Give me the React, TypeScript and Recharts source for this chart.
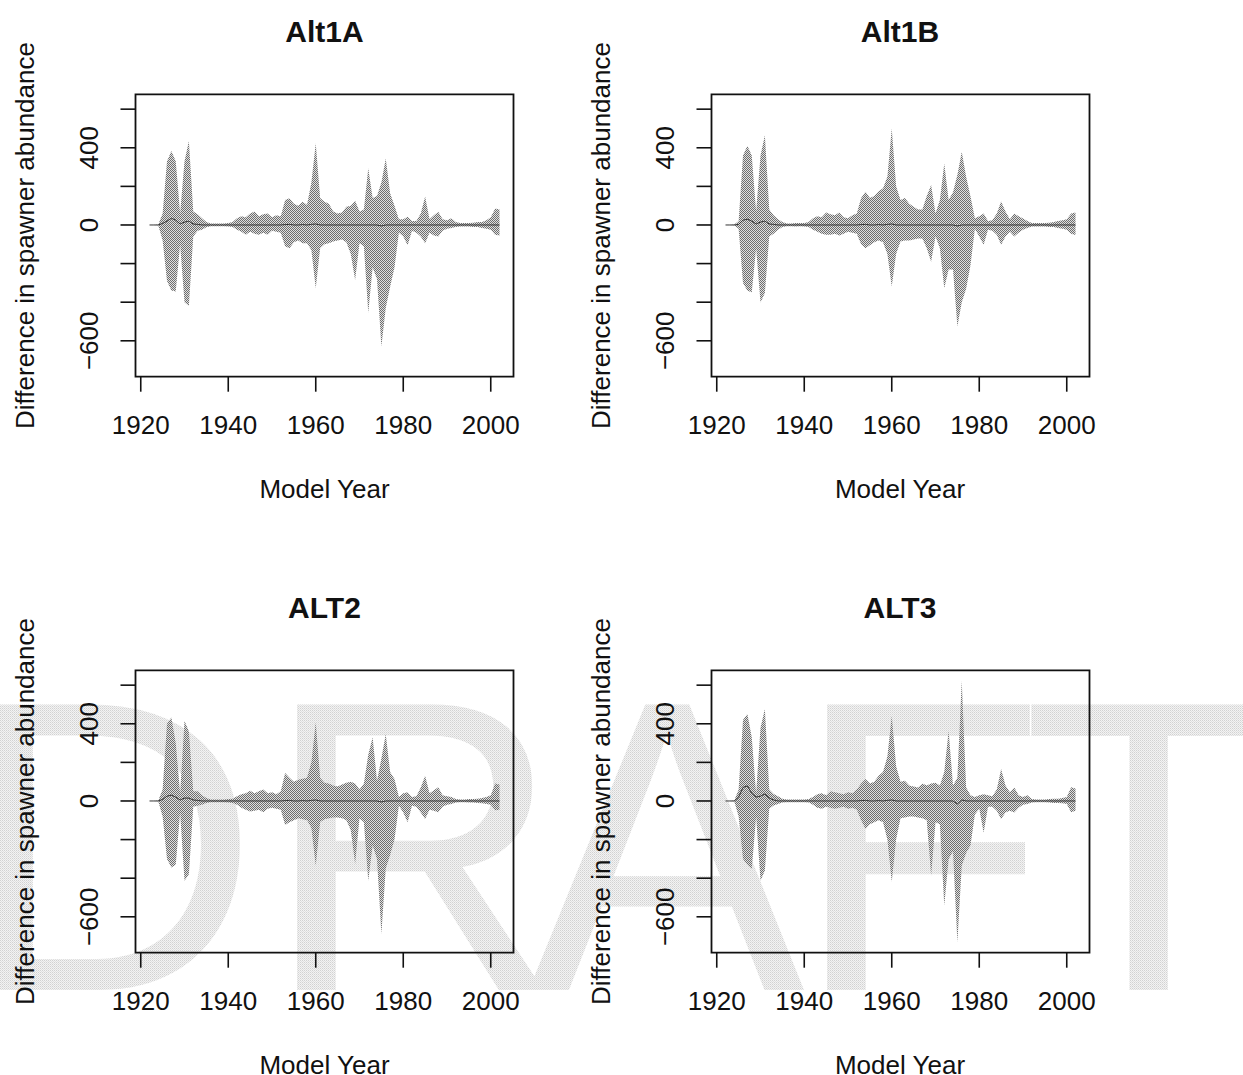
import React from "react";
import { ComposedChart, Area, Line, XAxis, YAxis, ReferenceArea } from "recharts";

// model years on the x axis
const YEARS = [
  1922, 1923, 1924, 1925, 1926, 1927, 1928, 1929, 1930, 1931,
  1932, 1933, 1934, 1935, 1936, 1937, 1938, 1939, 1940, 1941,
  1942, 1943, 1944, 1945, 1946, 1947, 1948, 1949, 1950, 1951,
  1952, 1953, 1954, 1955, 1956, 1957, 1958, 1959, 1960, 1961,
  1962, 1963, 1964, 1965, 1966, 1967, 1968, 1969, 1970, 1971,
  1972, 1973, 1974, 1975, 1976, 1977, 1978, 1979, 1980, 1981,
  1982, 1983, 1984, 1985, 1986, 1987, 1988, 1989, 1990, 1991,
  1992, 1993, 1994, 1995, 1996, 1997, 1998, 1999, 2000, 2001, 2002,
];

const X_TICKS = [1920, 1940, 1960, 1980, 2000];
const Y_TICKS = [-600, -400, -200, 0, 200, 400, 600];
const Y_LABELED = [400, 0, -600];
const PANEL_TITLES = ["Alt1A", "Alt1B", "ALT2", "ALT3"];
const X_LABEL = "Model Year";
const Y_LABEL = "Difference in spawner abundance";

// Alt1A
const ALT1A_UPPER = [
  0, 0, 2, 60, 330, 383, 330, 60, 330, 435,
  70, 55, 35, 15, 8, 8, 8, 8, 10, 15,
  35, 45, 40, 60, 70, 45, 55, 60, 40, 50,
  45, 130, 138, 110, 100, 120, 105, 220, 423, 140,
  120, 110, 70, 60, 65, 95, 100, 125, 70, 80,
  294, 140, 150, 220, 345, 165, 100, 30, 30, 43,
  20, 20, 60, 147, 30, 50, 69, 30, 25, 35,
  15, 10, 10, 10, 12, 15, 15, 25, 40, 86, 80,
];
const ALT1A_LOWER = [
  0, 0, -2, -80, -290, -340, -345, -100, -400, -420,
  -60, -30, -25, -12, -6, -6, -6, -6, -8, -10,
  -25, -35, -50, -35, -45, -50, -40, -50, -30, -35,
  -40, -110, -120, -90, -80, -95, -95, -130, -328, -120,
  -100, -95, -85, -80, -75, -90, -150, -285, -95, -110,
  -455, -220, -280, -630, -430, -320, -220, -40, -60, -105,
  -30, -40, -60, -95, -40, -55, -60, -30, -20, -15,
  -10, -8, -8, -8, -10, -10, -15, -20, -25, -50, -55,
];
const ALT1A_MEDIAN = [
  0, 0, 0, 8, 20, 35, 25, 5, 15, 20,
  5, 3, 0, 0, 0, 0, 0, 0, 0, 0,
  0, 0, 0, 0, 0, 0, 0, 0, 0, 0,
  0, 2, 3, 0, 0, 2, 0, 3, 5, 0,
  0, 0, 0, 0, 0, 0, 0, 0, 0, 0,
  0, 0, 0, -5, 0, 0, 0, 0, 0, 0,
  0, 0, 0, 0, 0, 0, 0, 0, 0, 0,
  0, 0, 0, 0, 0, 0, 0, 0, 0, 0, 0,
];

// Alt1B
const ALT1B_UPPER = [
  0, 0, 2, 20, 360, 410, 360, 70, 360, 465,
  80, 50, 30, 15, 8, 8, 10, 10, 10, 15,
  35, 45, 40, 65, 55, 50, 65, 40, 35, 50,
  60, 140, 172, 140, 150, 175, 190, 250, 500, 200,
  130, 140, 110, 95, 80, 80, 150, 207, 60, 130,
  319, 130, 170, 260, 379, 250, 147, 35, 45, 60,
  20, 25, 60, 121, 70, 30, 60, 45, 34, 20,
  10, 10, 10, 10, 12, 15, 20, 25, 30, 60, 65,
];
const ALT1B_LOWER = [
  0, 0, -2, -20, -300, -340, -350, -120, -402, -353,
  -60, -45, -25, -10, -6, -6, -8, -6, -8, -10,
  -25, -35, -45, -50, -50, -45, -55, -45, -35, -40,
  -45, -100, -121, -105, -90, -80, -90, -150, -319, -150,
  -85, -80, -80, -75, -70, -70, -120, -190, -60, -120,
  -328, -230, -230, -526, -400, -330, -207, -20, -60, -103,
  -25, -30, -50, -103, -60, -35, -60, -40, -25, -15,
  -8, -8, -8, -8, -10, -10, -15, -20, -25, -45, -52,
];
const ALT1B_MEDIAN = [
  0, 0, 0, 3, 25, 30, 20, 5, 15, 20,
  5, 3, 0, 0, 0, 0, 0, 0, 0, 0,
  0, 0, 0, 0, 0, 0, 0, 0, 0, 0,
  0, 2, 3, 0, 0, 2, 0, 3, 5, 0,
  0, 0, 0, 0, 0, 0, 0, 0, 0, 0,
  0, 0, 0, -5, 0, 0, 0, 0, 0, 0,
  0, 0, 0, 0, 0, 0, 0, 0, 0, 0,
  0, 0, 0, 0, 0, 0, 0, 0, 0, 0, 0,
];

// ALT2
const ALT2_UPPER = [
  0, 0, 2, 60, 400, 433, 300, 40, 416, 360,
  50, 50, 30, 15, 8, 8, 8, 8, 10, 12,
  25, 35, 40, 53, 40, 50, 59, 40, 45, 35,
  50, 145, 120, 100, 110, 115, 120, 200, 408, 120,
  95, 90, 80, 75, 85, 95, 100, 90, 60, 90,
  240, 330, 105, 220, 347, 150, 114, 20, 40, 45,
  20, 25, 70, 131, 40, 55, 71, 30, 25, 20,
  10, 8, 8, 10, 10, 12, 15, 20, 30, 90, 85,
];
const ALT2_LOWER = [
  0, 0, -2, -80, -300, -344, -330, -60, -413, -380,
  -30, -25, -20, -10, -6, -6, -6, -6, -8, -10,
  -20, -35, -45, -55, -50, -45, -59, -40, -35, -40,
  -45, -125, -110, -100, -90, -95, -100, -140, -335, -110,
  -95, -90, -85, -85, -90, -100, -150, -326, -90, -110,
  -413, -231, -300, -689, -350, -280, -200, -25, -60, -110,
  -25, -30, -60, -93, -45, -50, -59, -30, -20, -15,
  -8, -6, -6, -8, -8, -10, -12, -15, -20, -48, -45,
];
const ALT2_MEDIAN = [
  0, 0, 0, 8, 25, 30, 20, 5, 15, 15,
  5, 3, 0, 0, 0, 0, 0, 0, 0, 0,
  0, 0, 0, 0, 0, 0, 0, 0, 0, 0,
  0, 2, 3, 0, 0, 2, 0, 3, 5, 0,
  0, 0, 0, 0, 0, 0, 0, 0, 0, 0,
  0, 0, 0, -5, 0, 0, 0, 0, 0, 0,
  0, 0, 0, 0, 0, 0, 0, 0, 0, 0,
  0, 0, 0, 0, 0, 0, 0, 0, 0, 0, 0,
];

// ALT3
const ALT3_UPPER = [
  0, 0, 2, 60, 420, 450, 330, 40, 380, 477,
  60, 36, 25, 12, 8, 8, 8, 8, 8, 10,
  20, 35, 40, 30, 50, 45, 40, 35, 45, 40,
  60, 90, 114, 90, 100, 131, 150, 230, 442, 180,
  100, 105, 80, 75, 70, 90, 80, 90, 95, 80,
  150, 364, 80, 120, 623, 70, 30, 20, 30, 35,
  30, 25, 60, 166, 80, 45, 70, 30, 20, 30,
  10, 8, 8, 8, 10, 12, 12, 15, 20, 71, 65,
];
const ALT3_LOWER = [
  0, 0, -2, -80, -300, -330, -352, -80, -413, -360,
  -40, -24, -15, -8, -6, -6, -6, -6, -6, -8,
  -20, -35, -40, -30, -35, -40, -35, -30, -40, -35,
  -45, -100, -145, -120, -110, -100, -110, -200, -419, -200,
  -90, -85, -80, -80, -85, -90, -100, -387, -110, -120,
  -542, -300, -260, -732, -335, -270, -230, -70, -40, -164,
  -30, -30, -50, -93, -60, -50, -60, -35, -20, -15,
  -8, -6, -6, -6, -8, -10, -10, -12, -15, -59, -50,
];
const ALT3_MEDIAN = [
  0, 0, 0, 20, 70, 78, 40, 20, 25, 36,
  15, 5, 0, 0, 0, 0, 0, 0, 0, 0,
  0, 0, 0, 0, 0, 0, 0, 0, 0, 0,
  0, 2, 3, 0, 0, 2, 0, 3, 5, 0,
  0, 0, 0, 0, 0, 0, 0, 0, 0, 0,
  0, 0, 0, -15, 5, 0, 0, 0, 0, 0,
  0, 0, 0, 0, 0, 0, 0, 0, 0, 0,
  0, 0, 0, 0, 0, 0, 0, 0, 0, 0, 0,
];

const PANEL_SERIES = [
  [ALT1A_LOWER, ALT1A_UPPER, ALT1A_MEDIAN],
  [ALT1B_LOWER, ALT1B_UPPER, ALT1B_MEDIAN],
  [ALT2_LOWER, ALT2_UPPER, ALT2_MEDIAN],
  [ALT3_LOWER, ALT3_UPPER, ALT3_MEDIAN],
];

const FONT = '"Liberation Sans", Arial, Helvetica, sans-serif';
const INK = "#111";
const X_DOMAIN: [number, number] = [1918.8, 2005.2];
const Y_DOMAIN: [number, number] = [-786, 677];

// every panel is the same chart box, shifted into the 2x2 grid
const CHART_W = 600;
const CHART_H = 576;
const MARGIN = { top: 94.3, right: 86.5, bottom: 139.3, left: 75.5 };
const Y_AXIS_W = 60;
const X_AXIS_H = 60;
const PLOT_LEFT = MARGIN.left + Y_AXIS_W;
const PLOT_RIGHT = CHART_W - MARGIN.right;
const PLOT_TOP = MARGIN.top;
const PLOT_BOTTOM = CHART_H - MARGIN.bottom - X_AXIS_H;
const OFFSETS = [
  [0, 0],
  [575.5, 0],
  [0, 576],
  [575.5, 576],
];

function XTick({ x, y, payload }: any) {
  return (
    <text x={x} y={y + 42} textAnchor="middle" fontSize={26} fontFamily={FONT} fill={INK}>
      {payload.value}
    </text>
  );
}

function YTick({ x, y, payload }: any) {
  if (!Y_LABELED.includes(payload.value)) return <g />;
  const tx = x - 22;
  const v = payload.value;
  const label = v < 0 ? "\u2212" + Math.abs(v) : String(v);
  return (
    <text
      x={tx}
      y={y}
      transform={`rotate(-90 ${tx} ${y})`}
      textAnchor="middle"
      fontSize={26}
      fontFamily={FONT}
      fill={INK}
    >
      {label}
    </text>
  );
}

function Panel({ index }: { index: number }) {
  const [lower, upper, median] = PANEL_SERIES[index];
  const data = YEARS.map((year, i) => ({ year, band: [lower[i], upper[i]], med: median[i] }));
  const [left, top] = OFFSETS[index];
  return (
    <div style={{ position: "absolute", left, top, width: CHART_W, height: CHART_H }}>
      <ComposedChart width={CHART_W} height={CHART_H} data={data} margin={MARGIN}>
        <XAxis
          dataKey="year"
          type="number"
          domain={X_DOMAIN}
          ticks={X_TICKS}
          allowDataOverflow
          height={X_AXIS_H}
          axisLine={false}
          tickLine={{ stroke: INK, strokeWidth: 1.6 }}
          tickSize={15}
          tickMargin={0}
          tick={<XTick />}
          interval={0}
        />
        <YAxis
          type="number"
          domain={Y_DOMAIN}
          ticks={Y_TICKS}
          allowDataOverflow
          width={Y_AXIS_W}
          axisLine={false}
          tickLine={{ stroke: INK, strokeWidth: 1.6 }}
          tickSize={15}
          tickMargin={0}
          tick={<YTick />}
          interval={0}
        />
        <Area
          dataKey="band"
          type="linear"
          stroke="none"
          fill="url(#ribbonDots)"
          fillOpacity={1}
          isAnimationActive={false}
          activeDot={false}
        />
        <Line
          dataKey="med"
          type="linear"
          stroke="#333"
          strokeWidth={1}
          dot={false}
          activeDot={false}
          isAnimationActive={false}
        />
        <ReferenceArea
          x1={X_DOMAIN[0]}
          x2={X_DOMAIN[1]}
          y1={Y_DOMAIN[0]}
          y2={Y_DOMAIN[1]}
          fill="none"
          stroke={INK}
          strokeWidth={1.8}
        />
      </ComposedChart>
    </div>
  );
}

function Watermark() {
  const letters = ["D", "R", "A", "F", "T"];
  const xs = [-40, 263, 528, 793, 1022];
  return (
    <svg width={1243} height={1075} style={{ position: "absolute", left: 0, top: 0 }}>
      <defs>
        <pattern id="ribbonDots" width="2" height="2" patternUnits="userSpaceOnUse">
          <rect width="2" height="2" fill="#e0e0e0" />
          <rect width="1" height="1" fill="#6e6e6e" />
          <rect x="1" y="1" width="1" height="1" fill="#6e6e6e" />
        </pattern>
        <pattern id="draftDots" width="2" height="2" patternUnits="userSpaceOnUse">
          <rect width="2" height="2" fill="#f3f3f3" />
          <rect width="1" height="1" fill="#d2d2d2" />
          <rect x="1" y="1" width="1" height="1" fill="#e0e0e0" />
        </pattern>
      </defs>
      {letters.map((ch, i) => (
        <text key={ch} x={xs[i]} y={990} fontSize={415} fontFamily={FONT} fill="url(#draftDots)">
          {ch}
        </text>
      ))}
    </svg>
  );
}

function Labels() {
  const cx = (PLOT_LEFT + PLOT_RIGHT) / 2;
  const cy = (PLOT_TOP + PLOT_BOTTOM) / 2;
  return (
    <svg
      width={1243}
      height={1075}
      style={{ position: "absolute", left: 0, top: 0, pointerEvents: "none" }}
    >
      {OFFSETS.map(([ox, oy], i) => (
        <g key={i} fontFamily={FONT} fill={INK}>
          <text x={ox + cx} y={oy + 41.5} textAnchor="middle" fontSize={30} fontWeight="bold">
            {PANEL_TITLES[i]}
          </text>
          <text x={ox + cx} y={oy + 498} textAnchor="middle" fontSize={26}>
            {X_LABEL}
          </text>
          <text
            x={ox + 34}
            y={oy + cy}
            transform={`rotate(-90 ${ox + 34} ${oy + cy})`}
            textAnchor="middle"
            fontSize={26}
          >
            {Y_LABEL}
          </text>
        </g>
      ))}
    </svg>
  );
}

export default function App() {
  return (
    <div
      style={{
        position: "absolute",
        left: 0,
        top: 0,
        width: 1243,
        height: 1075,
        background: "#fff",
        overflow: "hidden",
      }}
    >
      <Watermark />
      {PANEL_SERIES.map((_, i) => (
        <Panel key={i} index={i} />
      ))}
      <Labels />
    </div>
  );
}
